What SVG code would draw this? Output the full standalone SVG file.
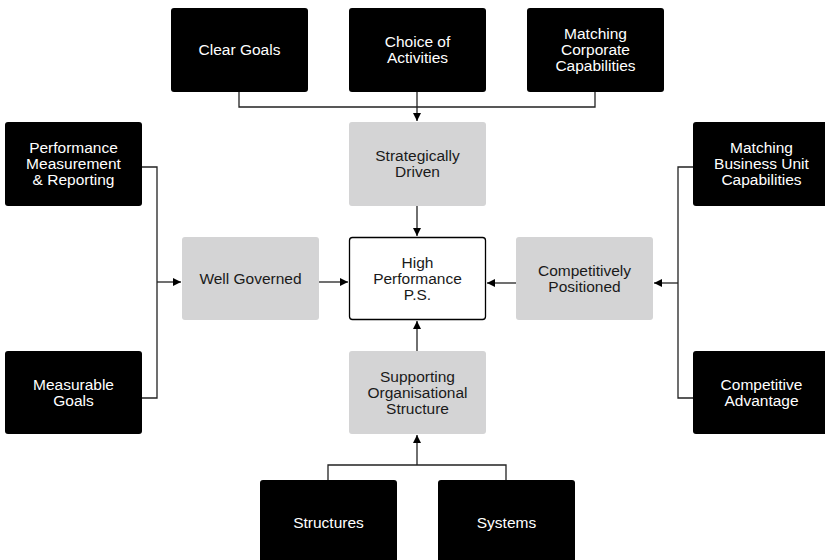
<svg xmlns="http://www.w3.org/2000/svg" width="825" height="560" viewBox="0 0 825 560">
<style>
.dark{fill:#000}
.grey{fill:#d4d4d5}
.white{fill:#fff;stroke:#000;stroke-width:1.3}
text{font-family:"Liberation Sans",Arial,Helvetica,sans-serif;font-size:15.5px;text-anchor:middle}
.lt{fill:#fff}
.dt{fill:#1a1a1a}
.con path{fill:none;stroke:#222;stroke-width:1.3}
</style>
<defs>
<marker id="arr" markerUnits="userSpaceOnUse" markerWidth="9" markerHeight="9" refX="8" refY="4" orient="auto">
<path d="M0,0 L8,4 L0,8 z" fill="#000"/>
</marker>
</defs>
<rect width="825" height="560" fill="#fff"/>
<g class="con">
<path d="M239,92 V107 H595 V92"/>
<path d="M417,92 V121" marker-end="url(#arr)"/>
<path d="M417,206 V236" marker-end="url(#arr)"/>
<path d="M142,167 H157 V398 H142"/>
<path d="M157,282 H181" marker-end="url(#arr)"/>
<path d="M319,282 H348" marker-end="url(#arr)"/>
<path d="M693,167 H678 V398 H693"/>
<path d="M678,283 H654" marker-end="url(#arr)"/>
<path d="M516,283 H487" marker-end="url(#arr)"/>
<path d="M328,480 V465 H506 V480"/>
<path d="M417,465 V435" marker-end="url(#arr)"/>
<path d="M417,351 V321" marker-end="url(#arr)"/>
</g>
<g id="clear-goals"><rect class="dark" x="171" y="8" width="137" height="84" rx="3"/><text class="lt" x="239.5" y="55">Clear Goals</text></g>
<g id="choice"><rect class="dark" x="349" y="8" width="137" height="84" rx="3"/><text class="lt" x="417.5" y="47">Choice of</text><text class="lt" x="417.5" y="63">Activities</text></g>
<g id="corporate"><rect class="dark" x="527" y="8" width="137" height="84" rx="3"/><text class="lt" x="595.5" y="39">Matching</text><text class="lt" x="595.5" y="55">Corporate</text><text class="lt" x="595.5" y="71">Capabilities</text></g>
<g id="strategic"><rect class="grey" x="349" y="122" width="137" height="84" rx="3"/><text class="dt" x="417.5" y="161">Strategically</text><text class="dt" x="417.5" y="177">Driven</text></g>
<g id="perf"><rect class="dark" x="5" y="122" width="137" height="84" rx="3"/><text class="lt" x="73.5" y="153">Performance</text><text class="lt" x="73.5" y="169">Measurement</text><text class="lt" x="73.5" y="185">&amp; Reporting</text></g>
<g id="bu"><rect class="dark" x="693" y="122" width="137" height="84" rx="3"/><text class="lt" x="761.5" y="153">Matching</text><text class="lt" x="761.5" y="169">Business Unit</text><text class="lt" x="761.5" y="185">Capabilities</text></g>
<g id="governed"><rect class="grey" x="182" y="237" width="137" height="83" rx="3"/><text class="dt" x="250.5" y="284">Well Governed</text></g>
<g id="hp"><rect class="white" x="349.5" y="237.5" width="136" height="82" rx="3"/><text class="dt" x="417.5" y="268">High</text><text class="dt" x="417.5" y="284">Performance</text><text class="dt" x="417.5" y="300">P.S.</text></g>
<g id="positioned"><rect class="grey" x="516" y="237" width="137" height="83" rx="3"/><text class="dt" x="584.5" y="276">Competitively</text><text class="dt" x="584.5" y="292">Positioned</text></g>
<g id="measurable"><rect class="dark" x="5" y="351" width="137" height="83" rx="3"/><text class="lt" x="73.5" y="390">Measurable</text><text class="lt" x="73.5" y="406">Goals</text></g>
<g id="supporting"><rect class="grey" x="349" y="351" width="137" height="83" rx="3"/><text class="dt" x="417.5" y="382">Supporting</text><text class="dt" x="417.5" y="398">Organisational</text><text class="dt" x="417.5" y="414">Structure</text></g>
<g id="advantage"><rect class="dark" x="693" y="351" width="137" height="83" rx="3"/><text class="lt" x="761.5" y="390">Competitive</text><text class="lt" x="761.5" y="406">Advantage</text></g>
<g id="structures"><rect class="dark" x="260" y="480" width="137" height="84" rx="3"/><text class="lt" x="328.5" y="528">Structures</text></g>
<g id="systems"><rect class="dark" x="438" y="480" width="137" height="84" rx="3"/><text class="lt" x="506.5" y="528">Systems</text></g>
</svg>
